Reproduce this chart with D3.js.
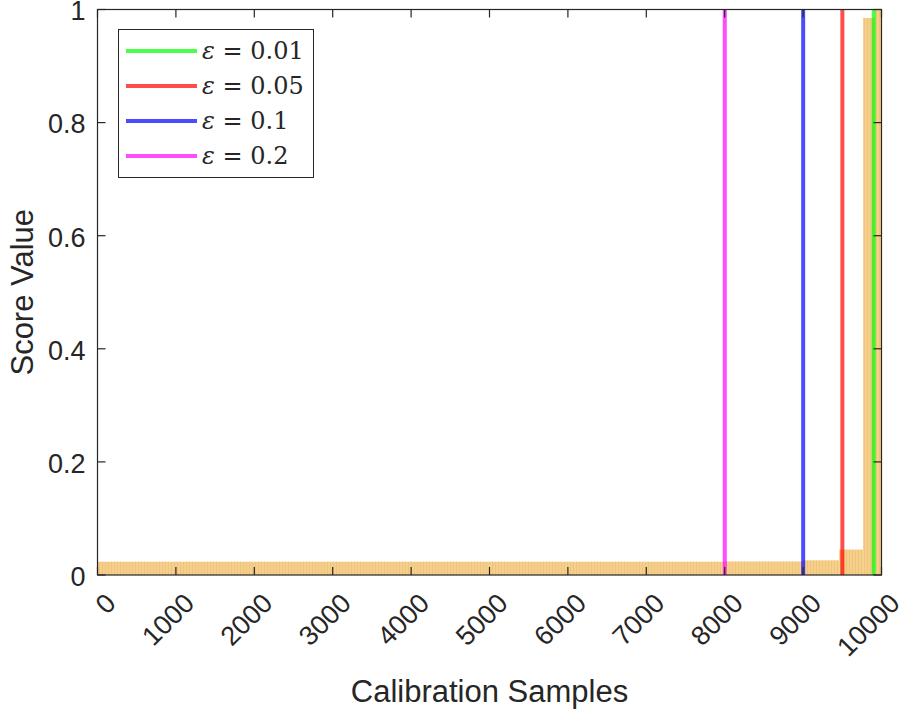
<!DOCTYPE html>
<html>
<head>
<meta charset="utf-8">
<script src="https://cdn.jsdelivr.net/npm/d3@7"></script>
<style>
  html, body { margin: 0; padding: 0; background: #fff; }
  svg { display: block; }
</style>
</head>
<body>
<svg id="chart" width="901" height="717"></svg>
<script>
// Sorted nonconformity scores over the calibration set, as constant steps
const stepStart = [0, 8000, 9000, 9460, 9765, 9910];
const stepEnd   = [8000, 9000, 9460, 9765, 9910, 10000];
const stepScore = [0.0235, 0.024, 0.026, 0.045, 0.985, 1.0];

// Quantile thresholds for each miscoverage level
const epsLabels = ["0.01", "0.05", "0.1", "0.2"];
const epsIndex  = [9901, 9501, 9001, 8001];
const epsColors = ["#00ff00", "#ff0000", "#0000ff", "#ff00ff"];

const xTicks = [0, 1000, 2000, 3000, 4000, 5000, 6000, 7000, 8000, 9000, 10000];
const yTicks = [0, 0.2, 0.4, 0.6, 0.8, 1];

const svg = d3.select("#chart");
const L = 97.5, R = 881.5, T = 9.5, B = 575;
const ink = "#262626";
const sans = "'Liberation Sans', Arial, Helvetica, sans-serif";

const x = d3.scaleLinear().domain([0, 10000]).range([L, R]);
const y = d3.scaleLinear().domain([0, 1]).range([B, T]);

// faint vertical striping of the densely packed bars
const defs = svg.append("defs");
const pat = defs.append("pattern")
  .attr("id", "barStripes").attr("patternUnits", "userSpaceOnUse")
  .attr("width", 3).attr("height", 10);
pat.append("rect").attr("width", 3).attr("height", 10).attr("fill", "#f5cf8b");
pat.append("rect").attr("width", 1).attr("height", 10).attr("fill", "#efc47b");

const steps = stepStart.map((s, i) => ({ s, e: stepEnd[i], v: stepScore[i] }));
svg.append("g").selectAll("rect").data(steps).join("rect")
  .attr("x", d => x(d.s))
  .attr("width", d => x(d.e) - x(d.s))
  .attr("y", d => y(d.v))
  .attr("height", d => y(0) - y(d.v))
  .attr("fill", "url(#barStripes)");

// threshold lines
const thr = epsIndex.map((v, i) => ({ v, c: epsColors[i], lab: epsLabels[i] }));
svg.append("g").selectAll("line").data(thr.slice().reverse()).join("line")
  .attr("x1", d => x(d.v)).attr("x2", d => x(d.v))
  .attr("y1", y(1)).attr("y2", y(0))
  .attr("stroke", d => d.c).attr("stroke-opacity", 0.7).attr("stroke-width", 4);

// axes box with inward ticks
const tickLen = 8;
const axG = svg.append("g").attr("stroke", ink).attr("stroke-width", 1.2).attr("fill", "none");
axG.append("rect").attr("x", L).attr("y", T).attr("width", R - L).attr("height", B - T);
xTicks.forEach(t => {
  axG.append("line").attr("x1", x(t)).attr("x2", x(t)).attr("y1", B).attr("y2", B - tickLen);
  axG.append("line").attr("x1", x(t)).attr("x2", x(t)).attr("y1", T).attr("y2", T + tickLen);
});
yTicks.forEach(t => {
  axG.append("line").attr("x1", L).attr("x2", L + tickLen).attr("y1", y(t)).attr("y2", y(t));
  axG.append("line").attr("x1", R).attr("x2", R - tickLen).attr("y1", y(t)).attr("y2", y(t));
});

// tick labels
svg.append("g").selectAll("text").data(yTicks).join("text")
  .attr("x", L - 12).attr("y", d => y(d))
  .attr("dy", "0.4em")
  .attr("text-anchor", "end")
  .attr("font-family", sans).attr("font-size", 27).attr("fill", ink)
  .text(d => d3.format("~g")(d));

svg.append("g").selectAll("text").data(xTicks).join("text")
  .attr("transform", d => `translate(${x(d) + 13},${598}) rotate(-45)`)
  .attr("dy", "0.36em")
  .attr("text-anchor", "end")
  .attr("font-family", sans).attr("font-size", 27).attr("fill", ink)
  .text(d => String(d));

// axis titles
svg.append("text")
  .attr("x", (L + R) / 2).attr("y", 702)
  .attr("text-anchor", "middle")
  .attr("font-family", sans).attr("font-size", 31).attr("fill", ink)
  .text("Calibration Samples");
svg.append("text")
  .attr("transform", `translate(33,${(T + B) / 2}) rotate(-90)`)
  .attr("text-anchor", "middle")
  .attr("font-family", sans).attr("font-size", 31).attr("fill", ink)
  .text("Score Value");

// legend
const lg = svg.append("g");
lg.append("rect").attr("x", 118.5).attr("y", 29.5).attr("width", 195).attr("height", 148)
  .attr("fill", "#fff").attr("stroke", ink).attr("stroke-width", 1);
const rowY = d3.scalePoint().domain(epsLabels).range([51, 156]);
const rows = lg.selectAll("g.row").data(thr).join("g").attr("class", "row");
rows.append("line")
  .attr("x1", 126).attr("x2", 197)
  .attr("y1", d => rowY(d.lab)).attr("y2", d => rowY(d.lab))
  .attr("stroke", d => d.c).attr("stroke-opacity", 0.7).attr("stroke-width", 4);
const lt = rows.append("text")
  .attr("x", 202).attr("y", d => rowY(d.lab)).attr("dy", "0.34em")
  .attr("font-family", "'DejaVu Serif', 'Liberation Serif', serif")
  .attr("font-size", 24).attr("fill", ink);
lt.append("tspan").attr("font-style", "italic").text("ε");
lt.append("tspan").text(d => " = " + d.lab);
</script>
</body>
</html>
